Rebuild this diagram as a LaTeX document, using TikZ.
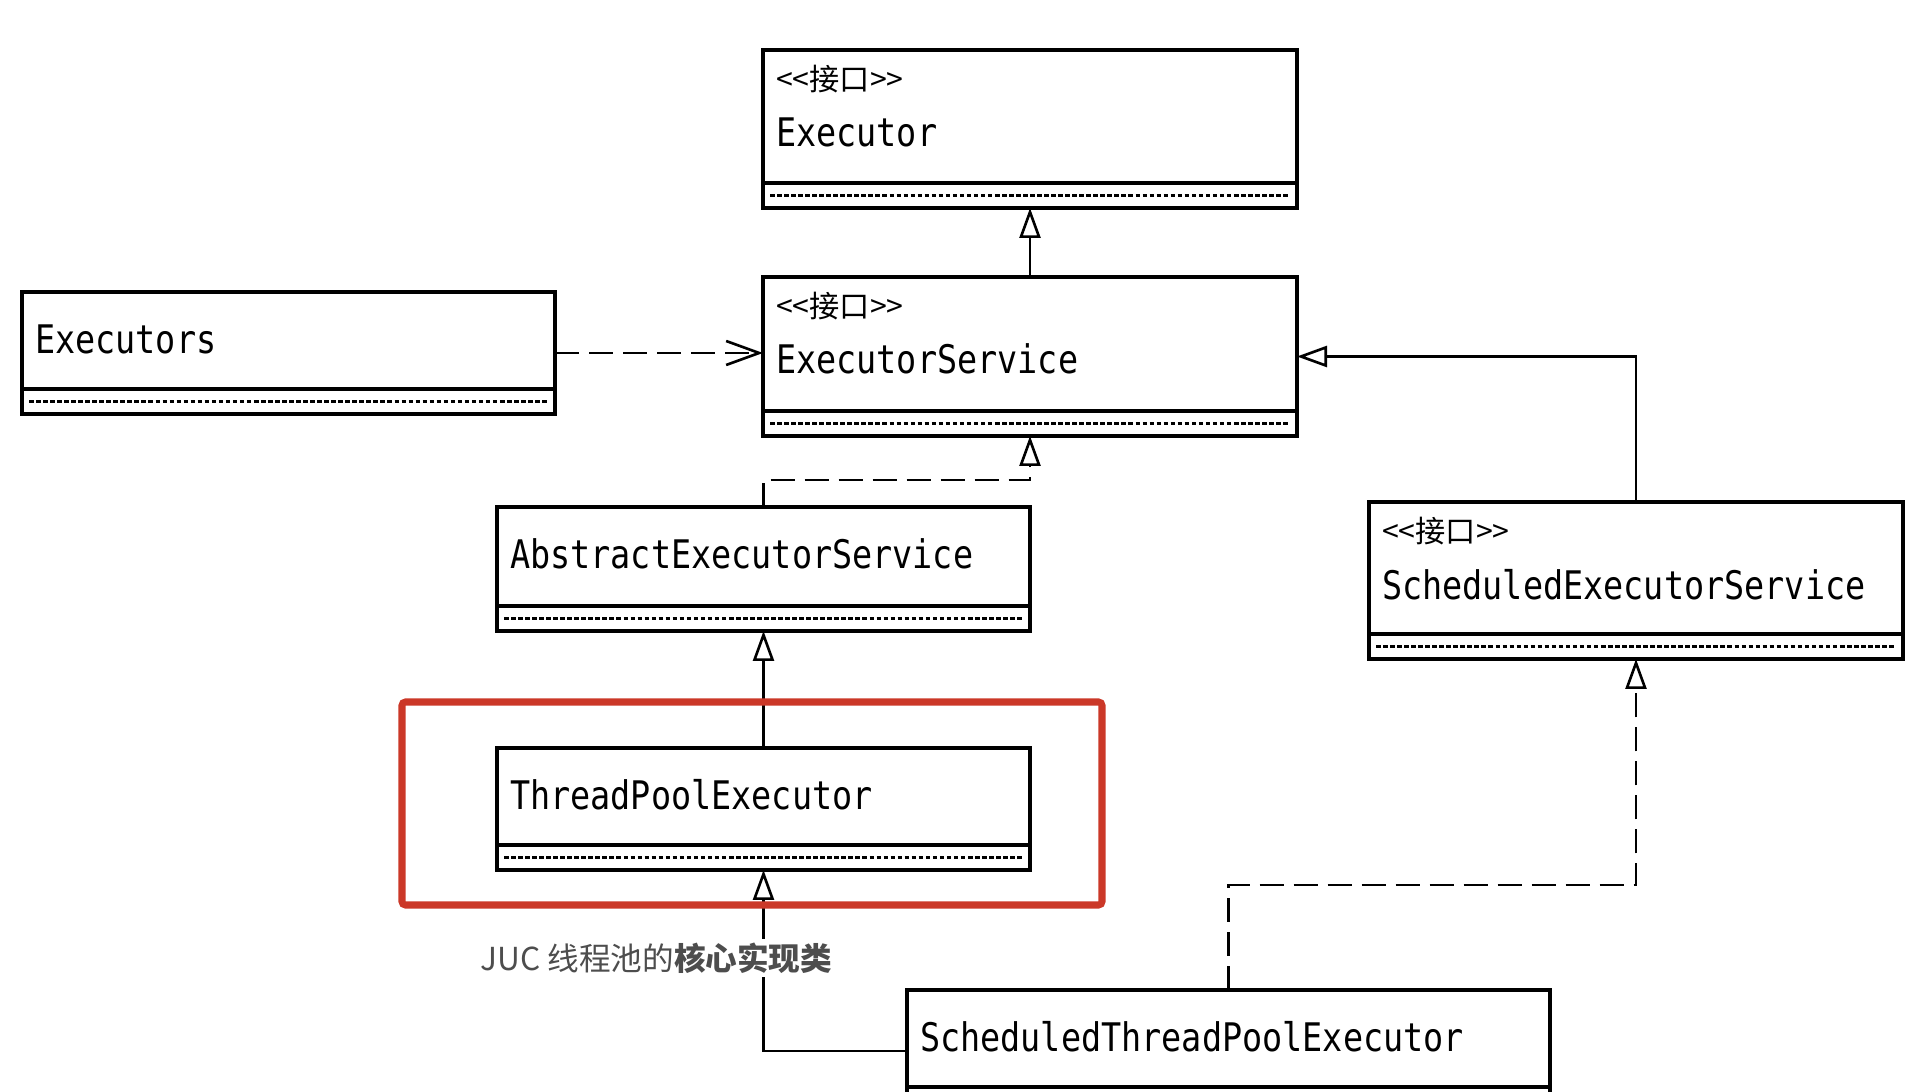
\documentclass[tikz,border=0pt]{standalone}
\usepackage{fontspec}
\newfontfamily\umlfont[FakeStretch=0.85]{DejaVu Sans Mono}
\newfontfamily\cjk{Noto Sans CJK SC}
\usepackage{xcolor}
\usetikzlibrary{arrows.meta,calc}

\definecolor{hlred}{HTML}{CB3828}
\definecolor{notegray}{HTML}{4D4D4D}

\begin{document}
\begin{tikzpicture}[
  every node/.style={inner sep=0pt, outer sep=0pt},
  cls/.style={draw=black, line width=1pt, fill=white, rectangle},
  clsname/.style={font=\umlfont\fontsize{11.2}{13}\selectfont, anchor=base west},
  stereo/.style={font=\cjk\fontsize{8.6}{10}\selectfont, anchor=base west},
  attrline/.style={line width=0.75pt, dash pattern=on 1.3pt off 0.7pt},
  inherit/.style={-{Triangle[open, length=0.30cm, width=0.21cm, line width=0.75pt]}, line width=0.65pt},
  realize/.style={inherit, dash pattern=on 0.24cm off 0.10cm},
  depend/.style={-{Straight Barb[length=0.33cm, width=0.24cm, line width=0.75pt]}, line width=0.65pt, dash pattern=on 0.24cm off 0.10cm},
]

%% ── Canvas ───────────────────────────────────────────────────────────────
\useasboundingbox (0,0) rectangle (19.10,-10.92);

%% ── Class boxes: name / left / top / width / height / text / baseline ───
\foreach \n/\x/\y/\w/\h/\nm/\b in {
    exec/7.63/0.50/5.34/1.58/Executor/0.97,
    execsvc/7.63/2.77/5.34/1.59/ExecutorService/0.97,
    executors/0.22/2.92/5.33/1.22/Executors/0.62,
    abssvc/4.97/5.07/5.33/1.24/AbstractExecutorService/0.62,
    schedsvc/13.69/5.02/5.34/1.57/ScheduledExecutorService/0.98,
    tpe/4.97/7.48/5.33/1.22/ThreadPoolExecutor/0.62,
    stpe/9.07/9.90/6.43/1.22/ScheduledThreadPoolExecutor/0.62} {
  \node[cls, minimum width=\w cm, minimum height=\h cm, anchor=north west] (\n) at (\x,-\y) {};
  %% attribute compartment
  \draw[line width=1pt] ([yshift=0.25cm]\n.south west) -- ([yshift=0.25cm]\n.south east);
  \draw[attrline] ([shift={(0.07,0.125)}]\n.south west) -- ([shift={(-0.07,0.125)}]\n.south east);
  \node[clsname] (\n-name) at ($(\n.north west)+(0.13,-\b)$) {\nm};
}

%% Interface stereotypes
\foreach \n in {exec, execsvc, schedsvc} {
  \node[stereo] (\n-stereo) at ($(\n.north west)+(0.13,-0.41)$) {<<接口>>};
}

%% ── Relations ────────────────────────────────────────────────────────────
\draw[inherit] (execsvc.north) -- (exec.south);
\draw[depend] (executors.east) -- (executors.east -| execsvc.west);
\draw[realize] (abssvc.north) -- ++(0,0.27) -| (execsvc.south);
\draw[inherit] (tpe.north) -- (abssvc.south);
\draw[inherit] (stpe.west) -| (tpe.south);
\draw[inherit] (schedsvc.north) |- (execsvc.east);
\draw[realize] (stpe.north) -- ++(0,1.05) -| (schedsvc.south);

%% ── Highlight ────────────────────────────────────────────────────────────
\draw[hlred, line width=2pt, rounded corners=1pt] (4.02,-7.02) rectangle (11.02,-9.05);
\node[font=\cjk\fontsize{9.0}{11}\selectfont, text=notegray, fill=white, inner sep=1pt, anchor=west] (note) at (4.77,-9.58)
  {JUC 线程池的\textbf{核心实现类}};

\end{tikzpicture}
\end{document}
